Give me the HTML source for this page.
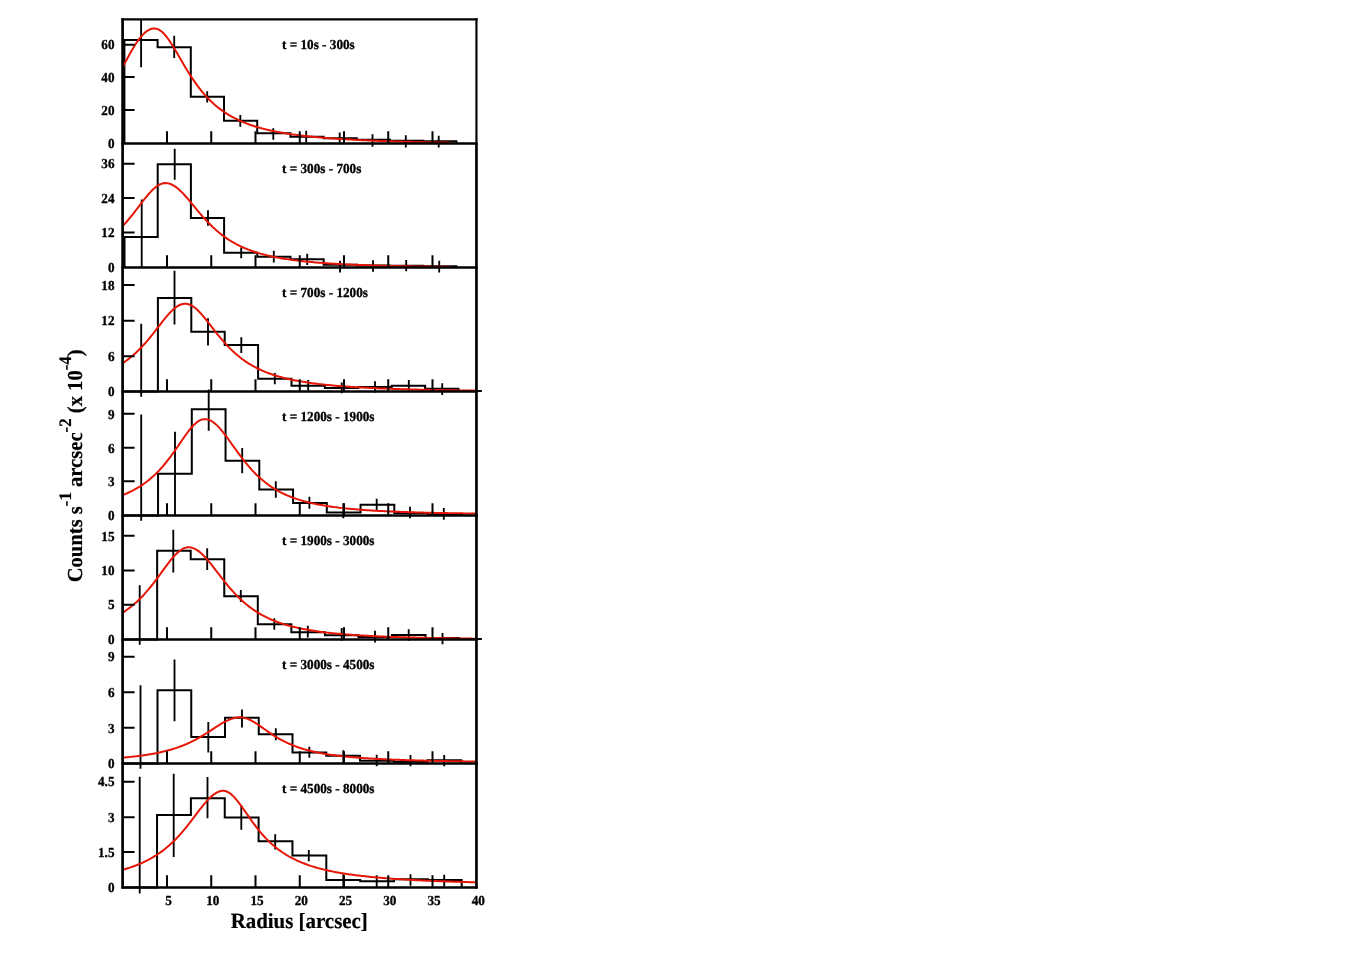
<!DOCTYPE html>
<html><head><meta charset="utf-8"><title>Radial profiles</title>
<style>
html,body{margin:0;padding:0;background:#fff;}
body{width:1362px;height:954px;overflow:hidden;font-family:"Liberation Serif",serif;}
svg{display:block;will-change:transform;text-rendering:geometricPrecision;}
</style></head><body>
<svg width="1362" height="954" viewBox="0 0 1362 954">
<rect x="0" y="0" width="1362" height="954" fill="#ffffff"/>
<g fill="none" stroke="#000">
<path d="M124.4 143.4V40H157.6V47.3H190.8V96.7H224V120.8H257.2V133.3H290.4V136.7H323.6V138.3H356.8V139.7H390V140.8H423.2V141.3H456.4V143.4" stroke-width="2.0"/>
<path d="M141.1 19.8V67.2M174.2 35.8V58M207.2 91.2V102.5M240.3 115V126.7M273.3 128.3V139.7M306.2 130.8V142.5M339.7 132.5V144.2M372.5 134.2V146.7M405.8 135.3V147.5M438.7 135.8V147.5" stroke-width="1.85"/>
</g>
<path d="M123.2 66.27 L124.7 63.4 L126.2 60.56 L127.7 57.75 L129.2 55.01 L130.7 52.32 L132.2 49.72 L133.7 47.21 L135.2 44.81 L136.7 42.53 L138.2 40.38 L139.7 38.37 L141.2 36.52 L142.7 34.84 L144.2 33.34 L145.7 32.02 L147.2 30.9 L148.7 29.99 L150.2 29.28 L151.7 28.78 L153.2 28.5 L154.7 28.44 L156.2 28.64 L157.7 29.11 L159.2 29.84 L160.7 30.83 L162.2 32.05 L163.7 33.5 L165.2 35.16 L166.7 37 L168.2 39.01 L169.7 41.17 L171.2 43.44 L172.7 45.81 L174.2 48.27 L175.7 50.78 L177.2 53.34 L178.7 55.92 L180.2 58.5 L181.7 61.09 L183.2 63.65 L184.7 66.19 L186.2 68.69 L187.7 71.15 L189.2 73.56 L190.7 75.91 L192.2 78.2 L193.7 80.42 L195.2 82.58 L196.7 84.67 L198.2 86.7 L199.7 88.66 L201.2 90.55 L202.7 92.37 L204.2 94.13 L205.7 95.82 L207.2 97.44 L208.7 99.01 L210.2 100.52 L211.7 101.96 L213.2 103.35 L214.7 104.69 L216.2 105.97 L217.7 107.21 L219.2 108.39 L220.7 109.53 L222.2 110.62 L223.7 111.67 L225.2 112.68 L226.7 113.65 L228.2 114.58 L229.7 115.48 L231.2 116.34 L232.7 117.17 L234.2 117.96 L235.7 118.73 L237.2 119.47 L238.7 120.18 L240.2 120.86 L241.7 121.52 L243.2 122.15 L244.7 122.76 L246.2 123.35 L247.7 123.92 L249.2 124.46 L250.7 124.99 L252.2 125.5 L253.7 125.99 L255.2 126.46 L256.7 126.92 L258.2 127.36 L259.7 127.79 L261.2 128.2 L262.7 128.6 L264.2 128.99 L265.7 129.36 L267.2 129.72 L268.7 130.07 L270.2 130.41 L271.7 130.74 L273.2 131.06 L274.7 131.37 L276.2 131.66 L277.7 131.95 L279.2 132.23 L280.7 132.5 L282.2 132.77 L283.7 133.02 L285.2 133.27 L286.7 133.51 L288.2 133.75 L289.7 133.97 L291.2 134.2 L292.7 134.41 L294.2 134.62 L295.7 134.82 L297.2 135.02 L298.7 135.21 L300.2 135.4 L301.7 135.58 L303.2 135.76 L304.7 135.93 L306.2 136.1 L307.7 136.26 L309.2 136.42 L310.7 136.57 L312.2 136.73 L313.7 136.87 L315.2 137.02 L316.7 137.16 L318.2 137.29 L319.7 137.43 L321.2 137.56 L322.7 137.68 L324.2 137.81 L325.7 137.93 L327.2 138.05 L328.7 138.16 L330.2 138.27 L331.7 138.38 L333.2 138.49 L334.7 138.59 L336.2 138.7 L337.7 138.8 L339.2 138.9 L340.7 138.99 L342.2 139.09 L343.7 139.18 L345.2 139.27 L346.7 139.35 L348.2 139.44 L349.7 139.52 L351.2 139.61 L352.7 139.69 L354.2 139.77 L355.7 139.84 L357.2 139.92 L358.7 139.99 L360.2 140.06 L361.7 140.14 L363.2 140.21 L364.7 140.27 L366.2 140.34 L367.7 140.41 L369.2 140.47 L370.7 140.53 L372.2 140.6 L373.7 140.66 L375.2 140.72 L376.7 140.77 L378.2 140.83 L379.7 140.89 L381.2 140.94 L382.7 141 L384.2 141.05 L385.7 141.1 L387.2 141.15 L388.7 141.2 L390.2 141.25 L391.7 141.3 L393.2 141.35 L394.7 141.39 L396.2 141.44 L397.7 141.49 L399.2 141.53 L400.7 141.57 L402.2 141.62 L403.7 141.66 L405.2 141.7 L406.7 141.74 L408.2 141.78 L409.7 141.82 L411.2 141.86 L412.7 141.9 L414.2 141.93 L415.7 141.97 L417.2 142.01 L418.7 142.04 L420.2 142.08 L421.7 142.11 L423.2 142.15 L424.7 142.18 L426.2 142.21 L427.7 142.24 L429.2 142.28 L430.7 142.31 L432.2 142.34 L433.7 142.37 L435.2 142.4 L436.7 142.43 L438.2 142.46 L439.7 142.49 L441.2 142.51 L442.7 142.54 L444.2 142.57 L445.7 142.59 L447.2 142.62 L448.7 142.65 L450.2 142.67 L451.7 142.7" fill="none" stroke="#e51607" stroke-width="2.0" stroke-linejoin="round"/>
<g fill="none" stroke="#000">
<path d="M124.5 267.4V237H157.7V164.2H190.9V218H224.1V252.8H257.3V256.7H290.5V259.2H323.7V264.7H356.9V265.5H390.1V265.8H423.3V266.2H456.5V267.4" stroke-width="2.0"/>
<path d="M141.7 199.5V267M174.7 148.8V179.7M208 210.3V225.8M241.2 247.5V258.3M273.8 250.8V262.5M307.2 253.7V265M340 260.8V272.5M373 260.3V271.7M406.2 260V271.3M439.2 260.8V272.5" stroke-width="1.85"/>
</g>
<path d="M123.2 225.55 L124.7 223.92 L126.2 222.23 L127.7 220.5 L129.2 218.72 L130.7 216.89 L132.2 215.03 L133.7 213.13 L135.2 211.2 L136.7 209.25 L138.2 207.29 L139.7 205.32 L141.2 203.36 L142.7 201.41 L144.2 199.48 L145.7 197.6 L147.2 195.77 L148.7 194 L150.2 192.32 L151.7 190.74 L153.2 189.27 L154.7 187.92 L156.2 186.72 L157.7 185.67 L159.2 184.78 L160.7 184.08 L162.2 183.55 L163.7 183.22 L165.2 183.08 L166.7 183.14 L168.2 183.36 L169.7 183.75 L171.2 184.31 L172.7 185.02 L174.2 185.88 L175.7 186.89 L177.2 188.03 L178.7 189.29 L180.2 190.66 L181.7 192.12 L183.2 193.67 L184.7 195.29 L186.2 196.97 L187.7 198.7 L189.2 200.47 L190.7 202.26 L192.2 204.08 L193.7 205.89 L195.2 207.71 L196.7 209.52 L198.2 211.31 L199.7 213.09 L201.2 214.83 L202.7 216.55 L204.2 218.23 L205.7 219.87 L207.2 221.48 L208.7 223.04 L210.2 224.56 L211.7 226.04 L213.2 227.47 L214.7 228.85 L216.2 230.19 L217.7 231.49 L219.2 232.74 L220.7 233.95 L222.2 235.11 L223.7 236.23 L225.2 237.31 L226.7 238.35 L228.2 239.35 L229.7 240.32 L231.2 241.24 L232.7 242.13 L234.2 242.99 L235.7 243.82 L237.2 244.61 L238.7 245.37 L240.2 246.1 L241.7 246.8 L243.2 247.48 L244.7 248.13 L246.2 248.76 L247.7 249.36 L249.2 249.94 L250.7 250.49 L252.2 251.03 L253.7 251.54 L255.2 252.04 L256.7 252.51 L258.2 252.97 L259.7 253.41 L261.2 253.84 L262.7 254.25 L264.2 254.64 L265.7 255.02 L267.2 255.39 L268.7 255.74 L270.2 256.08 L271.7 256.41 L273.2 256.73 L274.7 257.04 L276.2 257.33 L277.7 257.62 L279.2 257.89 L280.7 258.16 L282.2 258.41 L283.7 258.66 L285.2 258.9 L286.7 259.13 L288.2 259.36 L289.7 259.58 L291.2 259.79 L292.7 259.99 L294.2 260.19 L295.7 260.38 L297.2 260.56 L298.7 260.74 L300.2 260.91 L301.7 261.08 L303.2 261.24 L304.7 261.4 L306.2 261.55 L307.7 261.7 L309.2 261.85 L310.7 261.99 L312.2 262.12 L313.7 262.25 L315.2 262.38 L316.7 262.51 L318.2 262.63 L319.7 262.74 L321.2 262.86 L322.7 262.97 L324.2 263.08 L325.7 263.18 L327.2 263.28 L328.7 263.38 L330.2 263.48 L331.7 263.57 L333.2 263.66 L334.7 263.75 L336.2 263.84 L337.7 263.92 L339.2 264 L340.7 264.08 L342.2 264.16 L343.7 264.24 L345.2 264.31 L346.7 264.38 L348.2 264.46 L349.7 264.52 L351.2 264.59 L352.7 264.66 L354.2 264.72 L355.7 264.78 L357.2 264.84 L358.7 264.9 L360.2 264.96 L361.7 265.02 L363.2 265.07 L364.7 265.13 L366.2 265.18 L367.7 265.23 L369.2 265.28 L370.7 265.33 L372.2 265.38 L373.7 265.42 L375.2 265.47 L376.7 265.51 L378.2 265.56 L379.7 265.6 L381.2 265.64 L382.7 265.68 L384.2 265.73 L385.7 265.76 L387.2 265.8 L388.7 265.84 L390.2 265.88 L391.7 265.91 L393.2 265.95 L394.7 265.98 L396.2 266.02 L397.7 266.05 L399.2 266.08 L400.7 266.12 L402.2 266.15 L403.7 266.18 L405.2 266.21 L406.7 266.24 L408.2 266.27 L409.7 266.29 L411.2 266.32 L412.7 266.35 L414.2 266.38 L415.7 266.4 L417.2 266.43 L418.7 266.45 L420.2 266.48 L421.7 266.5 L423.2 266.53 L424.7 266.55 L426.2 266.57 L427.7 266.6 L429.2 266.62 L430.7 266.64 L432.2 266.66 L433.7 266.68 L435.2 266.7 L436.7 266.72 L438.2 266.74 L439.7 266.76 L441.2 266.78 L442.7 266.8 L444.2 266.82 L445.7 266.84 L447.2 266.85 L448.7 266.87 L450.2 266.89 L451.7 266.91" fill="none" stroke="#e51607" stroke-width="2.0" stroke-linejoin="round"/>
<g fill="none" stroke="#000">
<path d="M124.5 391.4V391.4H157.9V298H191.3V331.7H224.7V345H258.1V378.7H291.5V385.8H324.9V388H358.3V387H391.7V385.8H425.1V388.7H458.5V391.4" stroke-width="2.0"/>
<path d="M141.2 323.8V396.7M174.5 270.8V324.5M208 318.3V345.5M241.3 337.2V353M274.8 373V384.2M308.2 380V390.8M341.7 382.5V393.3M375 381.3V392.5M408.8 380V390.8M442.2 383.3V395" stroke-width="1.85"/>
</g>
<path d="M123.2 362.86 L124.7 361.83 L126.2 360.76 L127.7 359.65 L129.2 358.49 L130.7 357.29 L132.2 356.04 L133.7 354.75 L135.2 353.4 L136.7 352.01 L138.2 350.56 L139.7 349.07 L141.2 347.52 L142.7 345.93 L144.2 344.29 L145.7 342.6 L147.2 340.86 L148.7 339.08 L150.2 337.26 L151.7 335.41 L153.2 333.52 L154.7 331.6 L156.2 329.67 L157.7 327.72 L159.2 325.78 L160.7 323.83 L162.2 321.9 L163.7 320 L165.2 318.14 L166.7 316.34 L168.2 314.6 L169.7 312.94 L171.2 311.37 L172.7 309.92 L174.2 308.59 L175.7 307.4 L177.2 306.36 L178.7 305.48 L180.2 304.77 L181.7 304.25 L183.2 303.91 L184.7 303.77 L186.2 303.81 L187.7 304.06 L189.2 304.49 L190.7 305.12 L192.2 305.92 L193.7 306.9 L195.2 308.03 L196.7 309.31 L198.2 310.71 L199.7 312.24 L201.2 313.87 L202.7 315.58 L204.2 317.36 L205.7 319.2 L207.2 321.09 L208.7 323 L210.2 324.94 L211.7 326.88 L213.2 328.81 L214.7 330.74 L216.2 332.64 L217.7 334.53 L219.2 336.37 L220.7 338.19 L222.2 339.96 L223.7 341.69 L225.2 343.37 L226.7 345.01 L228.2 346.6 L229.7 348.14 L231.2 349.62 L232.7 351.06 L234.2 352.45 L235.7 353.79 L237.2 355.08 L238.7 356.32 L240.2 357.52 L241.7 358.67 L243.2 359.78 L244.7 360.85 L246.2 361.87 L247.7 362.86 L249.2 363.8 L250.7 364.71 L252.2 365.58 L253.7 366.42 L255.2 367.23 L256.7 368.01 L258.2 368.75 L259.7 369.47 L261.2 370.16 L262.7 370.82 L264.2 371.45 L265.7 372.07 L267.2 372.65 L268.7 373.22 L270.2 373.77 L271.7 374.29 L273.2 374.8 L274.7 375.28 L276.2 375.75 L277.7 376.2 L279.2 376.64 L280.7 377.05 L282.2 377.46 L283.7 377.85 L285.2 378.22 L286.7 378.59 L288.2 378.94 L289.7 379.28 L291.2 379.6 L292.7 379.92 L294.2 380.22 L295.7 380.52 L297.2 380.8 L298.7 381.08 L300.2 381.34 L301.7 381.6 L303.2 381.85 L304.7 382.09 L306.2 382.32 L307.7 382.55 L309.2 382.77 L310.7 382.98 L312.2 383.19 L313.7 383.39 L315.2 383.58 L316.7 383.77 L318.2 383.95 L319.7 384.13 L321.2 384.3 L322.7 384.47 L324.2 384.63 L325.7 384.79 L327.2 384.94 L328.7 385.09 L330.2 385.23 L331.7 385.37 L333.2 385.51 L334.7 385.64 L336.2 385.77 L337.7 385.9 L339.2 386.02 L340.7 386.14 L342.2 386.25 L343.7 386.37 L345.2 386.48 L346.7 386.58 L348.2 386.69 L349.7 386.79 L351.2 386.89 L352.7 386.99 L354.2 387.08 L355.7 387.17 L357.2 387.26 L358.7 387.35 L360.2 387.44 L361.7 387.52 L363.2 387.6 L364.7 387.68 L366.2 387.76 L367.7 387.83 L369.2 387.91 L370.7 387.98 L372.2 388.05 L373.7 388.12 L375.2 388.19 L376.7 388.25 L378.2 388.32 L379.7 388.38 L381.2 388.44 L382.7 388.5 L384.2 388.56 L385.7 388.62 L387.2 388.68 L388.7 388.73 L390.2 388.79 L391.7 388.84 L393.2 388.89 L394.7 388.94 L396.2 388.99 L397.7 389.04 L399.2 389.09 L400.7 389.13 L402.2 389.18 L403.7 389.23 L405.2 389.27 L406.7 389.31 L408.2 389.35 L409.7 389.4 L411.2 389.44 L412.7 389.48 L414.2 389.52 L415.7 389.55 L417.2 389.59 L418.7 389.63 L420.2 389.67 L421.7 389.7 L423.2 389.74 L424.7 389.77 L426.2 389.8 L427.7 389.84 L429.2 389.87 L430.7 389.9 L432.2 389.93 L433.7 389.96 L435.2 389.99 L436.7 390.02 L438.2 390.05 L439.7 390.08 L441.2 390.11 L442.7 390.14 L444.2 390.16 L445.7 390.19 L447.2 390.22 L448.7 390.24 L450.2 390.27 L451.7 390.29 L453.2 390.32 L454.7 390.34 L456.2 390.37 L457.7 390.39 L459.2 390.41 L460.7 390.44 L462.2 390.46 L463.7 390.48 L465.2 390.5 L466.7 390.52 L468.2 390.54 L469.7 390.56 L471.2 390.58 L472.7 390.6 L474.2 390.62 L475.7 390.64" fill="none" stroke="#e51607" stroke-width="2.0" stroke-linejoin="round"/>
<g fill="none" stroke="#000">
<path d="M124.3 515.4V515.4H158.05V473.7H191.8V409.2H225.55V460.8H259.3V489.5H293.05V503H326.8V512.5H360.55V504.7H394.3V513H428.05V514.5H461.8V515.4" stroke-width="2.0"/>
<path d="M141.2 414.5V520.8M175 431.7V515.1M208.7 389.5V430.8M242.2 448V473.3M275.8 481.2V497.8M309.4 496.7V508.8M343.3 503.3V518.3M376.7 498.7V510.8M410 506.7V518.3M443.8 508V519.7" stroke-width="1.85"/>
</g>
<path d="M123.2 494.88 L124.7 494.27 L126.2 493.63 L127.7 492.97 L129.2 492.27 L130.7 491.56 L132.2 490.81 L133.7 490.02 L135.2 489.21 L136.7 488.36 L138.2 487.48 L139.7 486.55 L141.2 485.59 L142.7 484.59 L144.2 483.54 L145.7 482.45 L147.2 481.31 L148.7 480.13 L150.2 478.89 L151.7 477.61 L153.2 476.27 L154.7 474.88 L156.2 473.43 L157.7 471.92 L159.2 470.36 L160.7 468.73 L162.2 467.05 L163.7 465.31 L165.2 463.51 L166.7 461.65 L168.2 459.74 L169.7 457.77 L171.2 455.75 L172.7 453.69 L174.2 451.58 L175.7 449.44 L177.2 447.27 L178.7 445.09 L180.2 442.89 L181.7 440.7 L183.2 438.53 L184.7 436.39 L186.2 434.29 L187.7 432.26 L189.2 430.3 L190.7 428.45 L192.2 426.72 L193.7 425.12 L195.2 423.68 L196.7 422.41 L198.2 421.33 L199.7 420.46 L201.2 419.79 L202.7 419.36 L204.2 419.15 L205.7 419.17 L207.2 419.39 L208.7 419.81 L210.2 420.42 L211.7 421.22 L213.2 422.2 L214.7 423.35 L216.2 424.65 L217.7 426.09 L219.2 427.66 L220.7 429.35 L222.2 431.14 L223.7 433.02 L225.2 434.97 L226.7 436.97 L228.2 439.02 L229.7 441.11 L231.2 443.21 L232.7 445.32 L234.2 447.43 L235.7 449.53 L237.2 451.62 L238.7 453.67 L240.2 455.7 L241.7 457.69 L243.2 459.64 L244.7 461.54 L246.2 463.4 L247.7 465.21 L249.2 466.96 L250.7 468.66 L252.2 470.31 L253.7 471.91 L255.2 473.45 L256.7 474.93 L258.2 476.37 L259.7 477.75 L261.2 479.08 L262.7 480.36 L264.2 481.59 L265.7 482.78 L267.2 483.91 L268.7 485.01 L270.2 486.06 L271.7 487.07 L273.2 488.03 L274.7 488.96 L276.2 489.85 L277.7 490.71 L279.2 491.53 L280.7 492.32 L282.2 493.07 L283.7 493.8 L285.2 494.49 L286.7 495.16 L288.2 495.8 L289.7 496.42 L291.2 497.01 L292.7 497.58 L294.2 498.13 L295.7 498.65 L297.2 499.15 L298.7 499.64 L300.2 500.1 L301.7 500.55 L303.2 500.98 L304.7 501.4 L306.2 501.79 L307.7 502.18 L309.2 502.55 L310.7 502.9 L312.2 503.24 L313.7 503.57 L315.2 503.89 L316.7 504.2 L318.2 504.49 L319.7 504.78 L321.2 505.05 L322.7 505.32 L324.2 505.57 L325.7 505.82 L327.2 506.06 L328.7 506.29 L330.2 506.51 L331.7 506.73 L333.2 506.93 L334.7 507.13 L336.2 507.33 L337.7 507.52 L339.2 507.7 L340.7 507.87 L342.2 508.04 L343.7 508.21 L345.2 508.37 L346.7 508.52 L348.2 508.67 L349.7 508.82 L351.2 508.96 L352.7 509.09 L354.2 509.23 L355.7 509.35 L357.2 509.48 L358.7 509.6 L360.2 509.72 L361.7 509.83 L363.2 509.94 L364.7 510.05 L366.2 510.15 L367.7 510.25 L369.2 510.35 L370.7 510.44 L372.2 510.54 L373.7 510.63 L375.2 510.72 L376.7 510.8 L378.2 510.88 L379.7 510.96 L381.2 511.04 L382.7 511.12 L384.2 511.19 L385.7 511.27 L387.2 511.34 L388.7 511.41 L390.2 511.47 L391.7 511.54 L393.2 511.6 L394.7 511.66 L396.2 511.72 L397.7 511.78 L399.2 511.84 L400.7 511.9 L402.2 511.95 L403.7 512 L405.2 512.06 L406.7 512.11 L408.2 512.16 L409.7 512.21 L411.2 512.25 L412.7 512.3 L414.2 512.34 L415.7 512.39 L417.2 512.43 L418.7 512.47 L420.2 512.51 L421.7 512.55 L423.2 512.59 L424.7 512.63 L426.2 512.67 L427.7 512.71 L429.2 512.74 L430.7 512.78 L432.2 512.81 L433.7 512.85 L435.2 512.88 L436.7 512.91 L438.2 512.94 L439.7 512.97 L441.2 513 L442.7 513.03 L444.2 513.06 L445.7 513.09 L447.2 513.12 L448.7 513.14 L450.2 513.17 L451.7 513.2 L453.2 513.22 L454.7 513.25 L456.2 513.27 L457.7 513.3 L459.2 513.32 L460.7 513.34 L462.2 513.37 L463.7 513.39 L465.2 513.41 L466.7 513.43 L468.2 513.45 L469.7 513.47 L471.2 513.49 L472.7 513.51 L474.2 513.53 L475.7 513.55" fill="none" stroke="#e51607" stroke-width="2.0" stroke-linejoin="round"/>
<g fill="none" stroke="#000">
<path d="M123.6 639.4V639.4H157.15V550.8H190.7V559.2H224.25V596.2H257.8V624.2H291.35V632.2H324.9V635.3H358.45V637H392V635H425.55V638H459.1V639.4" stroke-width="2.0"/>
<path d="M139.7 585.3V644.7M173.3 529.7V572.5M207.2 548.3V570M240.8 590V602M274.3 618.3V629.7M307.8 625.8V637.5M341.7 628V640.8M375 630.8V642.5M408.7 629.2V640.8M442.5 633V644.2" stroke-width="1.85"/>
</g>
<path d="M123.2 612.29 L124.7 611.31 L126.2 610.29 L127.7 609.23 L129.2 608.12 L130.7 606.97 L132.2 605.77 L133.7 604.52 L135.2 603.22 L136.7 601.88 L138.2 600.48 L139.7 599.03 L141.2 597.52 L142.7 595.96 L144.2 594.35 L145.7 592.68 L147.2 590.96 L148.7 589.19 L150.2 587.37 L151.7 585.5 L153.2 583.59 L154.7 581.63 L156.2 579.64 L157.7 577.62 L159.2 575.58 L160.7 573.52 L162.2 571.45 L163.7 569.38 L165.2 567.33 L166.7 565.3 L168.2 563.31 L169.7 561.36 L171.2 559.49 L172.7 557.69 L174.2 555.99 L175.7 554.41 L177.2 552.95 L178.7 551.63 L180.2 550.46 L181.7 549.47 L183.2 548.65 L184.7 548.02 L186.2 547.59 L187.7 547.36 L189.2 547.34 L190.7 547.5 L192.2 547.83 L193.7 548.35 L195.2 549.03 L196.7 549.87 L198.2 550.87 L199.7 552.02 L201.2 553.3 L202.7 554.7 L204.2 556.21 L205.7 557.82 L207.2 559.51 L208.7 561.28 L210.2 563.1 L211.7 564.98 L213.2 566.89 L214.7 568.83 L216.2 570.78 L217.7 572.74 L219.2 574.69 L220.7 576.64 L222.2 578.57 L223.7 580.48 L225.2 582.36 L226.7 584.21 L228.2 586.02 L229.7 587.79 L231.2 589.52 L232.7 591.21 L234.2 592.84 L235.7 594.44 L237.2 595.98 L238.7 597.48 L240.2 598.93 L241.7 600.33 L243.2 601.68 L244.7 602.99 L246.2 604.25 L247.7 605.46 L249.2 606.63 L250.7 607.76 L252.2 608.85 L253.7 609.89 L255.2 610.9 L256.7 611.87 L258.2 612.8 L259.7 613.69 L261.2 614.55 L262.7 615.38 L264.2 616.18 L265.7 616.94 L267.2 617.68 L268.7 618.39 L270.2 619.07 L271.7 619.72 L273.2 620.35 L274.7 620.95 L276.2 621.54 L277.7 622.1 L279.2 622.63 L280.7 623.15 L282.2 623.65 L283.7 624.13 L285.2 624.6 L286.7 625.04 L288.2 625.47 L289.7 625.88 L291.2 626.28 L292.7 626.67 L294.2 627.04 L295.7 627.39 L297.2 627.74 L298.7 628.07 L300.2 628.39 L301.7 628.7 L303.2 629 L304.7 629.29 L306.2 629.57 L307.7 629.84 L309.2 630.1 L310.7 630.35 L312.2 630.59 L313.7 630.83 L315.2 631.05 L316.7 631.27 L318.2 631.49 L319.7 631.69 L321.2 631.89 L322.7 632.09 L324.2 632.27 L325.7 632.45 L327.2 632.63 L328.7 632.8 L330.2 632.96 L331.7 633.12 L333.2 633.28 L334.7 633.43 L336.2 633.58 L337.7 633.72 L339.2 633.86 L340.7 633.99 L342.2 634.12 L343.7 634.24 L345.2 634.37 L346.7 634.49 L348.2 634.6 L349.7 634.71 L351.2 634.82 L352.7 634.93 L354.2 635.03 L355.7 635.13 L357.2 635.23 L358.7 635.33 L360.2 635.42 L361.7 635.51 L363.2 635.6 L364.7 635.68 L366.2 635.76 L367.7 635.85 L369.2 635.92 L370.7 636 L372.2 636.08 L373.7 636.15 L375.2 636.22 L376.7 636.29 L378.2 636.36 L379.7 636.43 L381.2 636.49 L382.7 636.55 L384.2 636.61 L385.7 636.67 L387.2 636.73 L388.7 636.79 L390.2 636.85 L391.7 636.9 L393.2 636.95 L394.7 637.01 L396.2 637.06 L397.7 637.11 L399.2 637.15 L400.7 637.2 L402.2 637.25 L403.7 637.29 L405.2 637.34 L406.7 637.38 L408.2 637.42 L409.7 637.47 L411.2 637.51 L412.7 637.55 L414.2 637.59 L415.7 637.62 L417.2 637.66 L418.7 637.7 L420.2 637.73 L421.7 637.77 L423.2 637.8 L424.7 637.84 L426.2 637.87 L427.7 637.9 L429.2 637.93 L430.7 637.96 L432.2 637.99 L433.7 638.02 L435.2 638.05 L436.7 638.08 L438.2 638.11 L439.7 638.14 L441.2 638.16 L442.7 638.19 L444.2 638.22 L445.7 638.24 L447.2 638.27 L448.7 638.29 L450.2 638.31 L451.7 638.34 L453.2 638.36 L454.7 638.38 L456.2 638.41 L457.7 638.43 L459.2 638.45 L460.7 638.47 L462.2 638.49 L463.7 638.51 L465.2 638.53 L466.7 638.55 L468.2 638.57 L469.7 638.59 L471.2 638.61 L472.7 638.63 L474.2 638.64 L475.7 638.66" fill="none" stroke="#e51607" stroke-width="2.0" stroke-linejoin="round"/>
<g fill="none" stroke="#000">
<path d="M123.75 763.4V763.4H157.5V690.3H191.25V737H225V717.8H258.75V734.2H292.5V752.5H326.25V755.8H360V760.8H393.75V761.7H427.5V760.3H461.25V763.4" stroke-width="2.0"/>
<path d="M140.5 685.3V768.7M174.5 659.5V721.3M208.3 722V752.5M242 709.5V727.5M275.8 728.3V740.3M309.3 746.7V757.8M343.3 750.3V762.5M376.7 754.7V766.3M410.5 755V766.3M444.2 755V766.3" stroke-width="1.85"/>
</g>
<path d="M123.2 757.61 L124.7 757.47 L126.2 757.33 L127.7 757.18 L129.2 757.03 L130.7 756.87 L132.2 756.71 L133.7 756.54 L135.2 756.37 L136.7 756.19 L138.2 756 L139.7 755.81 L141.2 755.61 L142.7 755.4 L144.2 755.18 L145.7 754.96 L147.2 754.73 L148.7 754.49 L150.2 754.23 L151.7 753.97 L153.2 753.7 L154.7 753.42 L156.2 753.13 L157.7 752.83 L159.2 752.51 L160.7 752.19 L162.2 751.85 L163.7 751.49 L165.2 751.12 L166.7 750.74 L168.2 750.34 L169.7 749.93 L171.2 749.5 L172.7 749.05 L174.2 748.58 L175.7 748.1 L177.2 747.6 L178.7 747.07 L180.2 746.53 L181.7 745.96 L183.2 745.38 L184.7 744.77 L186.2 744.13 L187.7 743.48 L189.2 742.8 L190.7 742.09 L192.2 741.36 L193.7 740.61 L195.2 739.83 L196.7 739.03 L198.2 738.2 L199.7 737.35 L201.2 736.48 L202.7 735.58 L204.2 734.67 L205.7 733.73 L207.2 732.78 L208.7 731.82 L210.2 730.85 L211.7 729.87 L213.2 728.89 L214.7 727.91 L216.2 726.93 L217.7 725.97 L219.2 725.03 L220.7 724.11 L222.2 723.22 L223.7 722.36 L225.2 721.56 L226.7 720.8 L228.2 720.1 L229.7 719.47 L231.2 718.91 L232.7 718.43 L234.2 718.03 L235.7 717.72 L237.2 717.5 L238.7 717.37 L240.2 717.34 L241.7 717.42 L243.2 717.62 L244.7 717.94 L246.2 718.37 L247.7 718.9 L249.2 719.52 L250.7 720.24 L252.2 721.03 L253.7 721.89 L255.2 722.81 L256.7 723.77 L258.2 724.77 L259.7 725.8 L261.2 726.85 L262.7 727.91 L264.2 728.97 L265.7 730.03 L267.2 731.08 L268.7 732.12 L270.2 733.14 L271.7 734.14 L273.2 735.12 L274.7 736.07 L276.2 736.99 L277.7 737.89 L279.2 738.76 L280.7 739.6 L282.2 740.41 L283.7 741.19 L285.2 741.94 L286.7 742.66 L288.2 743.35 L289.7 744.02 L291.2 744.66 L292.7 745.28 L294.2 745.87 L295.7 746.43 L297.2 746.97 L298.7 747.49 L300.2 747.99 L301.7 748.47 L303.2 748.93 L304.7 749.37 L306.2 749.79 L307.7 750.2 L309.2 750.59 L310.7 750.96 L312.2 751.32 L313.7 751.66 L315.2 751.99 L316.7 752.31 L318.2 752.61 L319.7 752.91 L321.2 753.19 L322.7 753.46 L324.2 753.72 L325.7 753.97 L327.2 754.21 L328.7 754.45 L330.2 754.67 L331.7 754.89 L333.2 755.09 L334.7 755.29 L336.2 755.49 L337.7 755.67 L339.2 755.85 L340.7 756.03 L342.2 756.2 L343.7 756.36 L345.2 756.52 L346.7 756.67 L348.2 756.81 L349.7 756.96 L351.2 757.09 L352.7 757.23 L354.2 757.36 L355.7 757.48 L357.2 757.6 L358.7 757.72 L360.2 757.83 L361.7 757.94 L363.2 758.05 L364.7 758.15 L366.2 758.25 L367.7 758.35 L369.2 758.44 L370.7 758.54 L372.2 758.62 L373.7 758.71 L375.2 758.8 L376.7 758.88 L378.2 758.96 L379.7 759.03 L381.2 759.11 L382.7 759.18 L384.2 759.25 L385.7 759.32 L387.2 759.39 L388.7 759.46 L390.2 759.52 L391.7 759.58 L393.2 759.65 L394.7 759.7 L396.2 759.76 L397.7 759.82 L399.2 759.87 L400.7 759.93 L402.2 759.98 L403.7 760.03 L405.2 760.08 L406.7 760.13 L408.2 760.18 L409.7 760.22 L411.2 760.27 L412.7 760.31 L414.2 760.36 L415.7 760.4 L417.2 760.44 L418.7 760.48 L420.2 760.52 L421.7 760.56 L423.2 760.6 L424.7 760.64 L426.2 760.67 L427.7 760.71 L429.2 760.74 L430.7 760.78 L432.2 760.81 L433.7 760.84 L435.2 760.87 L436.7 760.9 L438.2 760.94 L439.7 760.97 L441.2 760.99 L442.7 761.02 L444.2 761.05 L445.7 761.08 L447.2 761.11 L448.7 761.13 L450.2 761.16 L451.7 761.18 L453.2 761.21 L454.7 761.23 L456.2 761.26 L457.7 761.28 L459.2 761.31 L460.7 761.33 L462.2 761.35 L463.7 761.37 L465.2 761.39 L466.7 761.42 L468.2 761.44 L469.7 761.46 L471.2 761.48 L472.7 761.5 L474.2 761.52 L475.7 761.53" fill="none" stroke="#e51607" stroke-width="2.0" stroke-linejoin="round"/>
<g fill="none" stroke="#000">
<path d="M123.2 887.4V887.4H157.05V815H190.9V798.3H224.75V817.5H258.6V841.3H292.45V855.5H326.3V880H360.15V881.3H394V879.2H427.85V880H461.7V887.4" stroke-width="2.0"/>
<path d="M139.7 776.7V893.6M173.7 773.8V857M207.5 777V818.3M241.3 805V829.7M275.2 834.2V849.5M308.8 850V861.3M343.3 874.2V887M376.7 875.3V887M410.5 874.2V885.8M444.2 874.7V886.7" stroke-width="1.85"/>
</g>
<path d="M123.2 869.67 L124.7 869.23 L126.2 868.78 L127.7 868.32 L129.2 867.83 L130.7 867.33 L132.2 866.81 L133.7 866.27 L135.2 865.71 L136.7 865.13 L138.2 864.53 L139.7 863.91 L141.2 863.26 L142.7 862.59 L144.2 861.89 L145.7 861.16 L147.2 860.41 L148.7 859.63 L150.2 858.82 L151.7 857.97 L153.2 857.1 L154.7 856.18 L156.2 855.24 L157.7 854.26 L159.2 853.24 L160.7 852.18 L162.2 851.08 L163.7 849.94 L165.2 848.75 L166.7 847.52 L168.2 846.25 L169.7 844.93 L171.2 843.56 L172.7 842.15 L174.2 840.69 L175.7 839.18 L177.2 837.62 L178.7 836.01 L180.2 834.35 L181.7 832.65 L183.2 830.9 L184.7 829.11 L186.2 827.27 L187.7 825.4 L189.2 823.5 L190.7 821.57 L192.2 819.61 L193.7 817.63 L195.2 815.65 L196.7 813.66 L198.2 811.68 L199.7 809.72 L201.2 807.79 L202.7 805.89 L204.2 804.05 L205.7 802.28 L207.2 800.58 L208.7 798.98 L210.2 797.49 L211.7 796.11 L213.2 794.87 L214.7 793.78 L216.2 792.85 L217.7 792.08 L219.2 791.49 L220.7 791.09 L222.2 790.87 L223.7 790.85 L225.2 791.06 L226.7 791.53 L228.2 792.23 L229.7 793.16 L231.2 794.31 L232.7 795.65 L234.2 797.16 L235.7 798.83 L237.2 800.63 L238.7 802.53 L240.2 804.53 L241.7 806.59 L243.2 808.71 L244.7 810.85 L246.2 813.01 L247.7 815.16 L249.2 817.31 L250.7 819.43 L252.2 821.52 L253.7 823.57 L255.2 825.58 L256.7 827.54 L258.2 829.44 L259.7 831.29 L261.2 833.08 L262.7 834.81 L264.2 836.48 L265.7 838.09 L267.2 839.64 L268.7 841.14 L270.2 842.57 L271.7 843.96 L273.2 845.28 L274.7 846.56 L276.2 847.79 L277.7 848.97 L279.2 850.1 L280.7 851.18 L282.2 852.22 L283.7 853.22 L285.2 854.18 L286.7 855.11 L288.2 855.99 L289.7 856.84 L291.2 857.66 L292.7 858.45 L294.2 859.2 L295.7 859.93 L297.2 860.63 L298.7 861.3 L300.2 861.95 L301.7 862.57 L303.2 863.17 L304.7 863.75 L306.2 864.3 L307.7 864.84 L309.2 865.36 L310.7 865.86 L312.2 866.34 L313.7 866.8 L315.2 867.25 L316.7 867.69 L318.2 868.1 L319.7 868.51 L321.2 868.9 L322.7 869.28 L324.2 869.64 L325.7 870 L327.2 870.34 L328.7 870.67 L330.2 871 L331.7 871.31 L333.2 871.61 L334.7 871.9 L336.2 872.19 L337.7 872.46 L339.2 872.73 L340.7 872.99 L342.2 873.24 L343.7 873.48 L345.2 873.72 L346.7 873.95 L348.2 874.18 L349.7 874.39 L351.2 874.61 L352.7 874.81 L354.2 875.01 L355.7 875.21 L357.2 875.4 L358.7 875.58 L360.2 875.76 L361.7 875.94 L363.2 876.11 L364.7 876.28 L366.2 876.44 L367.7 876.6 L369.2 876.75 L370.7 876.9 L372.2 877.05 L373.7 877.19 L375.2 877.33 L376.7 877.47 L378.2 877.6 L379.7 877.73 L381.2 877.86 L382.7 877.98 L384.2 878.1 L385.7 878.22 L387.2 878.34 L388.7 878.45 L390.2 878.56 L391.7 878.67 L393.2 878.78 L394.7 878.88 L396.2 878.98 L397.7 879.08 L399.2 879.18 L400.7 879.27 L402.2 879.37 L403.7 879.46 L405.2 879.55 L406.7 879.64 L408.2 879.72 L409.7 879.81 L411.2 879.89 L412.7 879.97 L414.2 880.05 L415.7 880.13 L417.2 880.2 L418.7 880.28 L420.2 880.35 L421.7 880.42 L423.2 880.49 L424.7 880.56 L426.2 880.63 L427.7 880.7 L429.2 880.76 L430.7 880.82 L432.2 880.89 L433.7 880.95 L435.2 881.01 L436.7 881.07 L438.2 881.13 L439.7 881.19 L441.2 881.24 L442.7 881.3 L444.2 881.35 L445.7 881.41 L447.2 881.46 L448.7 881.51 L450.2 881.56 L451.7 881.61 L453.2 881.66 L454.7 881.71 L456.2 881.76 L457.7 881.8 L459.2 881.85 L460.7 881.9 L462.2 881.94 L463.7 881.98 L465.2 882.03 L466.7 882.07 L468.2 882.11 L469.7 882.15 L471.2 882.19 L472.7 882.23 L474.2 882.27 L475.7 882.31" fill="none" stroke="#e51607" stroke-width="2.0" stroke-linejoin="round"/>
<path d="M167 143.4V131.2M211.25 143.4V131.2M255.5 143.4V131.2M299.75 143.4V131.2M344 143.4V131.2M388.25 143.4V131.2M432.5 143.4V131.2M122.6 44.7H134.6M122.6 77H134.6M122.6 110H134.6" fill="none" stroke="#000" stroke-width="2.0"/>
<path d="M167 267.4V255.2M211.25 267.4V255.2M255.5 267.4V255.2M299.75 267.4V255.2M344 267.4V255.2M388.25 267.4V255.2M432.5 267.4V255.2M122.6 163.7H134.6M122.6 198H134.6M122.6 232.5H134.6" fill="none" stroke="#000" stroke-width="2.0"/>
<path d="M167 391.4V379.2M211.25 391.4V379.2M255.5 391.4V379.2M299.75 391.4V379.2M344 391.4V379.2M388.25 391.4V379.2M432.5 391.4V379.2M122.6 285H134.6M122.6 320.7H134.6M122.6 356.2H134.6" fill="none" stroke="#000" stroke-width="2.0"/>
<path d="M167 515.4V503.2M211.25 515.4V503.2M255.5 515.4V503.2M299.75 515.4V503.2M344 515.4V503.2M388.25 515.4V503.2M432.5 515.4V503.2M122.6 413.8H134.6M122.6 447.8H134.6M122.6 481.2H134.6" fill="none" stroke="#000" stroke-width="2.0"/>
<path d="M167 639.4V627.2M211.25 639.4V627.2M255.5 639.4V627.2M299.75 639.4V627.2M344 639.4V627.2M388.25 639.4V627.2M432.5 639.4V627.2M122.6 535.8H134.6M122.6 570.5H134.6M122.6 604.7H134.6" fill="none" stroke="#000" stroke-width="2.0"/>
<path d="M167 763.4V751.2M211.25 763.4V751.2M255.5 763.4V751.2M299.75 763.4V751.2M344 763.4V751.2M388.25 763.4V751.2M432.5 763.4V751.2M122.6 656.7H134.6M122.6 692.2H134.6M122.6 727.8H134.6" fill="none" stroke="#000" stroke-width="2.0"/>
<path d="M167 887.4V875.2M211.25 887.4V875.2M255.5 887.4V875.2M299.75 887.4V875.2M344 887.4V875.2M388.25 887.4V875.2M432.5 887.4V875.2M122.6 781.7H134.6M122.6 817.2H134.6M122.6 852H134.6" fill="none" stroke="#000" stroke-width="2.0"/>
<g fill="none" stroke="#000" stroke-linecap="butt" stroke-linejoin="miter">
<line x1="122.6" y1="18.22" x2="122.6" y2="888.57" stroke-width="2.7"/>
<line x1="476.45" y1="18.22" x2="476.45" y2="143.4" stroke-width="2.15"/>
<line x1="476.45" y1="143.4" x2="476.45" y2="888.57" stroke-width="2.7"/>
<line x1="121.35" y1="19.4" x2="477.65" y2="19.4" stroke-width="2.35"/>
<line x1="121.35" y1="143.4" x2="477.65" y2="143.4" stroke-width="2.55"/>
<line x1="121.35" y1="267.4" x2="477.65" y2="267.4" stroke-width="2.55"/>
<line x1="121.35" y1="391.4" x2="477.65" y2="391.4" stroke-width="2.55"/>
<line x1="476.45" y1="391" x2="481.85" y2="391" stroke-width="2"/>
<line x1="121.35" y1="515.4" x2="477.65" y2="515.4" stroke-width="2.55"/>
<line x1="121.35" y1="639.4" x2="477.65" y2="639.4" stroke-width="2.55"/>
<line x1="476.45" y1="639" x2="481.85" y2="639" stroke-width="2"/>
<line x1="121.35" y1="763.4" x2="477.65" y2="763.4" stroke-width="2.55"/>
<line x1="121.35" y1="887.4" x2="477.65" y2="887.4" stroke-width="2.55"/>
</g>
<g font-family="'Liberation Serif', serif" font-weight="bold" fill="#000" stroke="#000" stroke-width="0.3" stroke-linejoin="round">
<text transform="translate(282 48.85) scale(1 1.045)" font-size="13.2">t = 10s - 300s</text>
<text transform="translate(114.5 49.4) scale(1 1.045)" font-size="13.2" text-anchor="end">60</text>
<text transform="translate(114.5 81.7) scale(1 1.045)" font-size="13.2" text-anchor="end">40</text>
<text transform="translate(114.5 114.7) scale(1 1.045)" font-size="13.2" text-anchor="end">20</text>
<text transform="translate(114.5 148.1) scale(1 1.045)" font-size="13.2" text-anchor="end">0</text>
<text transform="translate(282 172.85) scale(1 1.045)" font-size="13.2">t = 300s - 700s</text>
<text transform="translate(114.5 168.4) scale(1 1.045)" font-size="13.2" text-anchor="end">36</text>
<text transform="translate(114.5 202.7) scale(1 1.045)" font-size="13.2" text-anchor="end">24</text>
<text transform="translate(114.5 237.2) scale(1 1.045)" font-size="13.2" text-anchor="end">12</text>
<text transform="translate(114.5 272.1) scale(1 1.045)" font-size="13.2" text-anchor="end">0</text>
<text transform="translate(282 296.85) scale(1 1.045)" font-size="13.2">t = 700s - 1200s</text>
<text transform="translate(114.5 289.7) scale(1 1.045)" font-size="13.2" text-anchor="end">18</text>
<text transform="translate(114.5 325.4) scale(1 1.045)" font-size="13.2" text-anchor="end">12</text>
<text transform="translate(114.5 360.9) scale(1 1.045)" font-size="13.2" text-anchor="end">6</text>
<text transform="translate(114.5 396.1) scale(1 1.045)" font-size="13.2" text-anchor="end">0</text>
<text transform="translate(282 420.85) scale(1 1.045)" font-size="13.2">t = 1200s - 1900s</text>
<text transform="translate(114.5 418.5) scale(1 1.045)" font-size="13.2" text-anchor="end">9</text>
<text transform="translate(114.5 452.5) scale(1 1.045)" font-size="13.2" text-anchor="end">6</text>
<text transform="translate(114.5 485.9) scale(1 1.045)" font-size="13.2" text-anchor="end">3</text>
<text transform="translate(114.5 520.1) scale(1 1.045)" font-size="13.2" text-anchor="end">0</text>
<text transform="translate(282 544.85) scale(1 1.045)" font-size="13.2">t = 1900s - 3000s</text>
<text transform="translate(114.5 540.5) scale(1 1.045)" font-size="13.2" text-anchor="end">15</text>
<text transform="translate(114.5 575.2) scale(1 1.045)" font-size="13.2" text-anchor="end">10</text>
<text transform="translate(114.5 609.4) scale(1 1.045)" font-size="13.2" text-anchor="end">5</text>
<text transform="translate(114.5 644.1) scale(1 1.045)" font-size="13.2" text-anchor="end">0</text>
<text transform="translate(282 668.85) scale(1 1.045)" font-size="13.2">t = 3000s - 4500s</text>
<text transform="translate(114.5 661.4) scale(1 1.045)" font-size="13.2" text-anchor="end">9</text>
<text transform="translate(114.5 696.9) scale(1 1.045)" font-size="13.2" text-anchor="end">6</text>
<text transform="translate(114.5 732.5) scale(1 1.045)" font-size="13.2" text-anchor="end">3</text>
<text transform="translate(114.5 768.1) scale(1 1.045)" font-size="13.2" text-anchor="end">0</text>
<text transform="translate(282 792.85) scale(1 1.045)" font-size="13.2">t = 4500s - 8000s</text>
<text transform="translate(114.5 786.4) scale(1 1.045)" font-size="13.2" text-anchor="end">4.5</text>
<text transform="translate(114.5 821.9) scale(1 1.045)" font-size="13.2" text-anchor="end">3</text>
<text transform="translate(114.5 856.7) scale(1 1.045)" font-size="13.2" text-anchor="end">1.5</text>
<text transform="translate(114.5 892.1) scale(1 1.045)" font-size="13.2" text-anchor="end">0</text>
<text transform="translate(168.6 904.6) scale(1 1.045)" font-size="13.2" text-anchor="middle">5</text>
<text transform="translate(212.85 904.6) scale(1 1.045)" font-size="13.2" text-anchor="middle">10</text>
<text transform="translate(257.1 904.6) scale(1 1.045)" font-size="13.2" text-anchor="middle">15</text>
<text transform="translate(301.35 904.6) scale(1 1.045)" font-size="13.2" text-anchor="middle">20</text>
<text transform="translate(345.6 904.6) scale(1 1.045)" font-size="13.2" text-anchor="middle">25</text>
<text transform="translate(389.85 904.6) scale(1 1.045)" font-size="13.2" text-anchor="middle">30</text>
<text transform="translate(434.1 904.6) scale(1 1.045)" font-size="13.2" text-anchor="middle">35</text>
<text transform="translate(478.35 904.6) scale(1 1.045)" font-size="13.2" text-anchor="middle">40</text>
<text transform="translate(299.2 927.9) scale(1 1.035)" font-size="20.9" stroke-width="0.2" text-anchor="middle">Radius [arcsec]</text>
<text transform="translate(81.9 582.3) rotate(-90) scale(1 1.035)" font-size="20.6" stroke-width="0.2">Counts s<tspan dy="-10.6" font-size="16.9">-1</tspan><tspan dy="10.6"> arcsec</tspan><tspan dy="-10.6" font-size="16.9">-2</tspan><tspan dy="10.6"> (x 10</tspan><tspan dy="-10.6" font-size="16.9">-4</tspan><tspan dy="10.6">)</tspan></text>
</g>
</svg>
</body></html>
